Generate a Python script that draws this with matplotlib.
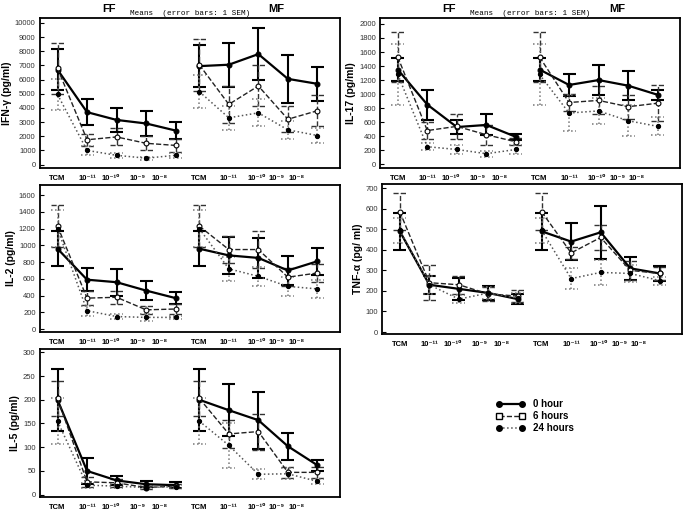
import numpy as np
import matplotlib
matplotlib.use('Agg')
import matplotlib.pyplot as plt
from matplotlib.lines import Line2D

plt.rcParams['font.family'] = ['Liberation Sans', 'DejaVu Sans']

# concentration labels, repeated for FF and MF groups
conc_labels = ['TCM', '10⁻¹¹', '10⁻¹⁰', '10⁻⁹', '10⁻⁸']
series_names = ['0 hour', '6 hours', '24 hours']

# values: first 5 = FF, last 5 = MF
ifn_0h = [6700, 3700, 3150, 2900, 2400, 6950, 7050, 7800, 6050, 5700]
ifn_0h_sem = [1450, 900, 850, 850, 570, 1500, 1550, 1850, 1700, 1200]
ifn_6h = [6800, 1750, 1950, 1500, 1350, 7050, 4250, 5550, 3200, 3800]
ifn_6h_sem = [1800, 420, 600, 500, 450, 1850, 1300, 1450, 900, 1100]
ifn_24h = [4950, 1000, 650, 450, 650, 5150, 3300, 3650, 2450, 2050]
ifn_24h_sem = [1100, 300, 200, 100, 200, 1150, 850, 950, 650, 500]

il17_0h = [1350, 850, 530, 560, 390, 1350, 1130, 1200, 1120, 990]
il17_0h_sem = [170, 215, 100, 150, 40, 170, 160, 210, 210, 70]
il17_6h = [1530, 480, 540, 420, 320, 1530, 880, 910, 820, 870]
il17_6h_sem = [360, 120, 180, 140, 50, 360, 120, 200, 170, 260]
il17_24h = [1280, 250, 210, 150, 210, 1280, 730, 760, 620, 540]
il17_24h_sem = [430, 50, 60, 40, 70, 430, 260, 180, 220, 130]

il2_0h = [960, 590, 560, 460, 370, 960, 880, 850, 700, 810]
il2_0h_sem = [210, 140, 160, 110, 70, 210, 220, 240, 170, 160]
il2_6h = [1230, 370, 380, 230, 240, 1230, 950, 950, 620, 670]
il2_6h_sem = [250, 80, 80, 50, 60, 250, 160, 220, 110, 110]
il2_24h = [1200, 220, 150, 140, 140, 1200, 720, 630, 510, 480]
il2_24h_sem = [220, 60, 30, 40, 20, 220, 140, 110, 110, 110]

tnf_0h = [490, 230, 210, 190, 160, 490, 440, 485, 310, 285]
tnf_0h_sem = [90, 45, 55, 35, 25, 90, 90, 130, 55, 35]
tnf_6h = [585, 240, 230, 185, 175, 585, 385, 460, 300, 285]
tnf_6h_sem = [90, 85, 45, 35, 30, 90, 30, 60, 45, 30]
tnf_24h = [495, 230, 160, 190, 165, 495, 260, 290, 285, 250]
tnf_24h_sem = [60, 45, 20, 30, 25, 60, 50, 60, 40, 20]

il5_0h = [200, 50, 30, 22, 20, 200, 178, 157, 102, 62]
il5_0h_sem = [65, 27, 10, 6, 6, 65, 55, 60, 29, 12]
il5_6h = [203, 27, 25, 15, 18, 203, 128, 133, 47, 47]
il5_6h_sem = [37, 10, 8, 4, 4, 37, 30, 38, 12, 12]
il5_24h = [155, 20, 18, 15, 17, 155, 104, 43, 44, 28]
il5_24h_sem = [48, 5, 4, 3, 4, 48, 47, 11, 12, 6]

# x positions of the two groups
x_ff = np.arange(5)
x_mf = np.arange(5) + 4.8
x_all = np.concatenate([x_ff, x_mf])
# label offsets (labels in the original are not centred under the points)
lab_off = np.array([0, 0, -0.2, -0.3, -0.55, 0, 0, -0.05, -0.37, -0.72])

styles = [
    dict(color='black', ls='-', lw=1.6, mfc='black', ms=3.5, ecolor='black', els='-', elw=1.5),
    dict(color='#222222', ls='--', lw=1.0, mfc='white', ms=3.5, ecolor='#333333', els='--', elw=1.0),
    dict(color='#555555', ls=':', lw=1.1, mfc='black', ms=3.0, ecolor='#777777', els=':', elw=1.1),
]

fig = plt.figure(figsize=(6.86, 5.14), dpi=100)


def draw_panel(rect, ylabel, ylim, yticks, series, title=False):
    ax = fig.add_axes(rect)
    cap = 0.22
    for (mean, sem), st in zip(series, styles):
        mean = np.array(mean, dtype=float)
        sem = np.array(sem, dtype=float)
        for sl in (slice(0, 5), slice(5, 10)):
            xs, m, s = x_all[sl], mean[sl], sem[sl]
            ax.vlines(xs, m - s, m + s, colors=st['ecolor'], linestyles=st['els'], lw=st['elw'], zorder=2)
            ax.hlines(m + s, xs - cap, xs + cap, colors=st['ecolor'], linestyles=st['els'], lw=st['elw'], zorder=2)
            ax.hlines(m - s, xs - cap, xs + cap, colors=st['ecolor'], linestyles=st['els'], lw=st['elw'], zorder=2)
            ax.plot(xs, m, color=st['color'], ls=st['ls'], lw=st['lw'], marker='o',
                    mfc=st['mfc'], mec='black', mew=0.8, ms=st['ms'], zorder=3)
    ax.set_xlim(-0.6, 9.55)
    ax.set_ylim(*ylim)
    ax.set_yticks(yticks)
    ax.tick_params(axis='y', direction='in', length=3, labelsize=5.5, labelcolor='#333333', pad=3)
    ax.set_xticks(x_all + lab_off)
    ax.set_xticklabels(conc_labels * 2, fontsize=5.5, fontweight='bold')
    ax.tick_params(axis='x', length=0, pad=5)
    ax.set_ylabel(ylabel, fontsize=7.5, fontweight='bold', labelpad=2)
    for sp in ax.spines.values():
        sp.set_linewidth(1.3)
    if title:
        ax.text(0.23, 1.04, 'FF', transform=ax.transAxes, fontsize=8, fontweight='bold', ha='center')
        ax.text(0.5, 1.02, 'Means  (error bars: 1 SEM)', transform=ax.transAxes,
                fontsize=5.5, family='Liberation Mono', ha='center')
        ax.text(0.79, 1.04, 'MF', transform=ax.transAxes, fontsize=8, fontweight='bold', ha='center')
    return ax


draw_panel([0.058, 0.673, 0.437, 0.292], 'IFN-γ (pg/ml)', (-250, 10350),
           np.arange(0, 10001, 1000),
           [(ifn_0h, ifn_0h_sem), (ifn_6h, ifn_6h_sem), (ifn_24h, ifn_24h_sem)], title=True)
draw_panel([0.554, 0.673, 0.437, 0.292], 'IL-17 (pg/ml)', (-55, 2085),
           np.arange(0, 2001, 200),
           [(il17_0h, il17_0h_sem), (il17_6h, il17_6h_sem), (il17_24h, il17_24h_sem)], title=True)
draw_panel([0.058, 0.354, 0.437, 0.286], 'IL-2 (pg/ml)', (-35, 1720),
           np.arange(0, 1601, 200),
           [(il2_0h, il2_0h_sem), (il2_6h, il2_6h_sem), (il2_24h, il2_24h_sem)])
draw_panel([0.557, 0.350, 0.437, 0.292], 'TNF-α (pg/ ml)', (-10, 720),
           np.arange(0, 701, 100),
           [(tnf_0h, tnf_0h_sem), (tnf_6h, tnf_6h_sem), (tnf_24h, tnf_24h_sem)])
draw_panel([0.058, 0.033, 0.437, 0.288], 'IL-5 (pg/ml)', (-5, 307),
           np.arange(0, 301, 50),
           [(il5_0h, il5_0h_sem), (il5_6h, il5_6h_sem), (il5_24h, il5_24h_sem)])

handles = [
    Line2D([0], [0], color='black', ls='-', lw=1.6, marker='o', mfc='black', mec='black', ms=4),
    Line2D([0], [0], color='#222222', ls='--', lw=1.0, marker='s', mfc='white', mec='black', ms=4),
    Line2D([0], [0], color='#555555', ls=':', lw=1.1, marker='o', mfc='black', mec='black', ms=4),
]
fig.legend(handles, series_names, loc='center left', bbox_to_anchor=(0.71, 0.19),
           frameon=False, numpoints=2, handlelength=3, labelspacing=0.2,
           prop={'size': 7, 'weight': 'bold'})

plt.savefig('out.png', dpi=100)
